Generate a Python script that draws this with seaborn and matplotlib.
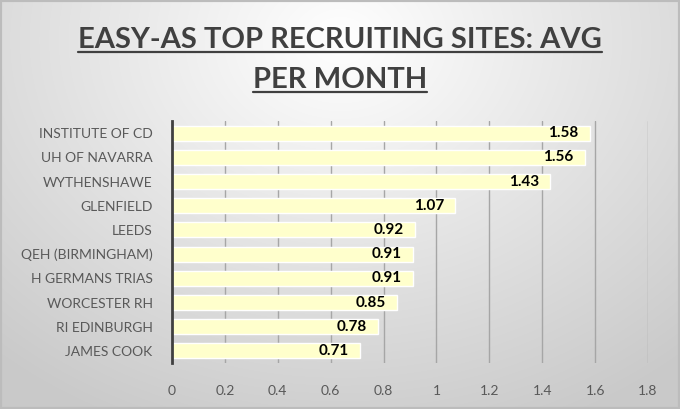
import numpy as np
import pandas as pd
import matplotlib
matplotlib.use('Agg')
import matplotlib.pyplot as plt
import seaborn as sns
from matplotlib.lines import Line2D
from matplotlib.patches import Rectangle

sites = ['INSTITUTE OF CD', 'UH OF NAVARRA', 'WYTHENSHAWE', 'GLENFIELD', 'LEEDS',
         'QEH (BIRMINGHAM)', 'H GERMANS TRIAS', 'WORCESTER RH', 'RI EDINBURGH', 'JAMES COOK']
avg_per_month = [1.58, 1.56, 1.43, 1.07, 0.92, 0.91, 0.91, 0.85, 0.78, 0.71]
x_ticks = [0, 0.2, 0.4, 0.6, 0.8, 1, 1.2, 1.4, 1.6, 1.8]
x_tick_labels = ['0', '0.2', '0.4', '0.6', '0.8', '1', '1.2', '1.4', '1.6', '1.8']
title_lines = ['EASY-AS TOP RECRUITING SITES: AVG', 'PER MONTH']

df = pd.DataFrame({'site': sites, 'avg': avg_per_month})

sns.set_style('white')
plt.rcParams['font.family'] = ['Lato', 'DejaVu Sans']

W, H = 680, 409
fig = plt.figure(figsize=(W / 100, H / 100), dpi=100)

# gradient background
bg = fig.add_axes([0, 0, 1, 1], zorder=-10)
yy, xx = np.mgrid[0:H, 0:W]
r = np.sqrt(((xx - 340) / 520.0) ** 2 + ((yy - 40) / 420.0) ** 2)
shade = 1.0 - 0.21 * np.clip(r, 0, 1)
bg.imshow(np.dstack([shade] * 3), aspect='auto', extent=[0, 1, 0, 1], interpolation='bilinear')
bg.add_patch(Rectangle((0, 0), 1, 1, transform=bg.transAxes, fill=False,
                       edgecolor='#bcbcbc', linewidth=3))
bg.set_axis_off()

ax = fig.add_axes([172 / W, 1 - 363 / H, (648 - 172) / W, (363 - 121) / H])
ax.patch.set_alpha(0)
sns.barplot(data=df, y='site', x='avg', color='#FFFFCC', width=0.62,
            saturation=1, ax=ax, zorder=2)
ax.set_xlim(0, 1.8)
ax.set_ylim(9.5, -0.5)
ax.set_xticks(x_ticks)
ax.set_xticklabels(x_tick_labels)
ax.grid(axis='x', color='#a6a6a6', linewidth=1, zorder=0)
ax.set_axisbelow(True)
ax.set_xlabel('')
ax.set_ylabel('')
for s in ['top', 'right', 'bottom']:
    ax.spines[s].set_visible(False)
ax.spines['left'].set_color('#404040')
ax.spines['left'].set_linewidth(2)
ax.tick_params(axis='both', length=0, colors='#595959', labelsize=10)
ax.tick_params(axis='x', pad=16)
ax.tick_params(axis='y', pad=14)

for i, v in enumerate(avg_per_month):
    ax.annotate(f'{v:.2f}', xy=(v, i), xytext=(-8, 0), textcoords='offset points',
                ha='right', va='center', fontsize=11, fontweight='bold', color='black')

# title with underline
baselines = [48, 88]
texts = []
for line, b in zip(title_lines, baselines):
    t = fig.text(0.5, 1 - b / H, line, ha='center', va='baseline', fontsize=21,
                 fontweight='bold', color='#404040')
    texts.append((t, b))
fig.canvas.draw()
renderer = fig.canvas.get_renderer()
for t, b in texts:
    bb = t.get_window_extent(renderer)
    yl = 1 - (b + 4) / H
    fig.add_artist(Line2D([bb.x0 / W, bb.x1 / W], [yl, yl], color='#404040', linewidth=1.6))

fig.savefig('out.png', dpi=100)
